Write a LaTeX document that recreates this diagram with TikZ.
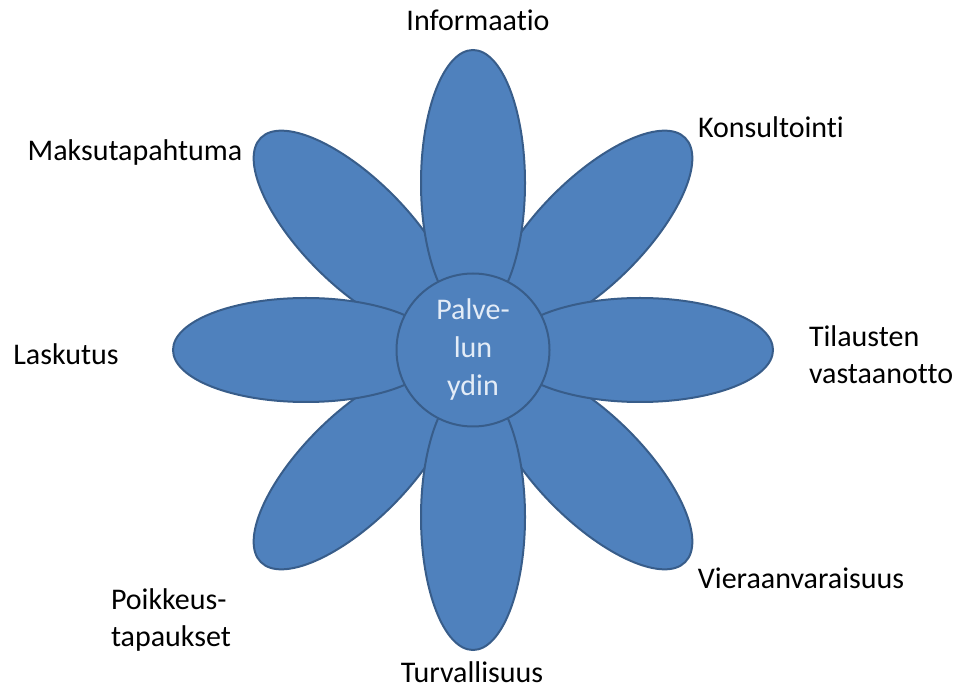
\documentclass[tikz,border=0pt]{standalone}
\usepackage{fontspec}
\setmainfont{Carlito}[Ligatures=NoCommon]
\definecolor{petalblue}{HTML}{4F81BD}
\definecolor{petalline}{HTML}{385D8A}
\definecolor{coretext}{HTML}{E3ECF7}

\begin{document}
\begin{tikzpicture}[x=1pt,y=1pt,line width=2pt,
  petal/.style={fill=petalblue,draw=petalline},
  lbl/.style={font=\fontsize{30}{37}\selectfont,inner sep=0pt}]
  \useasboundingbox (0,0) rectangle (963,688);
  \coordinate (c) at (473,338);
  % terälehdet (vinot ensin, sitten pystyt ja vaakat)
  \begin{scope}[shift={(c)}]
    \draw[petal,rotate=45] (167,0) ellipse (133 and 53);
    \draw[petal,rotate=135] (167,0) ellipse (133 and 53);
    \draw[petal,rotate=225] (167,0) ellipse (133 and 53);
    \draw[petal,rotate=315] (167,0) ellipse (133 and 53);
    \draw[petal] (167,0) ellipse (133 and 52);
    \draw[petal,rotate=90] (167,0) ellipse (133 and 52);
    \draw[petal,rotate=180] (167,0) ellipse (133 and 52);
    \draw[petal,rotate=270] (167,0) ellipse (133 and 52);
  \end{scope}
  % keskusta
  \node[circle,petal,minimum size=153pt,inner sep=0pt,align=center,
    text=coretext,font=\fontsize{30}{38}\selectfont] (ydin) at (c) {Palve-\\lun\\ydin};
  % tekstit
  \node[lbl] (info) at (478,668) {Informaatio};
  \node[lbl] (kons) at (771,561) {Konsultointi};
  \node[lbl] (maksu) at (135,535) {Maksutapahtuma};
  \node[lbl] (lasku) at (66,334) {Laskutus};
  \node[lbl,anchor=west,align=left] (tilaus) at (808,333) {Tilausten\\vastaanotto};
  \node[lbl] (viera) at (801,110) {Vieraanvaraisuus};
  \node[lbl,anchor=west,align=left] (poikk) at (110,68) {Poikkeus-\\tapaukset};
  \node[lbl] (turva) at (472,16) {Turvallisuus};
\end{tikzpicture}
\end{document}
